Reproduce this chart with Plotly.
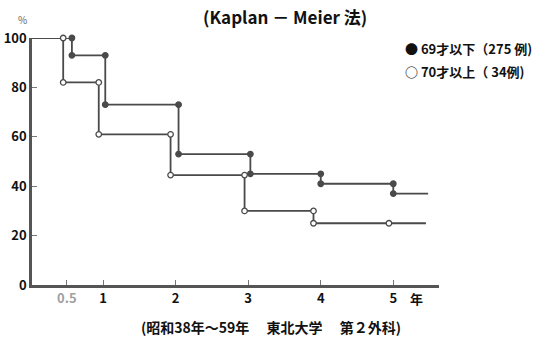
import plotly.graph_objects as go

# Kaplan-Meier step data (years, survival %)
g1_name = "69才以下（275 例)"
g1_time = [0, 0.57, 1.03, 2.04, 3.03, 4.0, 5.0, 5.48]
g1_surv = [100, 93, 73, 53, 45, 41, 37, 37]

g2_name = "70才以上（ 34例)"
g2_time = [0, 0.45, 0.94, 1.93, 2.95, 3.9, 5.45]
g2_surv = [100, 82, 61, 44.5, 30, 25, 25]
g2_extra_time = [4.94]
g2_extra_surv = [25]

x_ticks = [0.5, 1, 2, 3, 4, 5]
x_ticktext = ["<span style='color:#a0a0a0'>0.5</span>", "1", "2", "3", "4", "5"]
y_ticks = [0, 20, 40, 60, 80, 100]

title_text = "(Kaplan － Meier 法)"
footnote = "(昭和38年～59年　 東北大学　 第２外科)"

LINE = "#4a4a4a"
FONT = "Noto Sans CJK JP"


def step_markers(t, s):
    xs, ys = [], []
    for i in range(1, len(t) - 1):
        xs += [t[i], t[i]]
        ys += [s[i - 1], s[i]]
    return xs, ys


fig = go.Figure()
for t, s, filled in [(g1_time, g1_surv, True), (g2_time, g2_surv, False)]:
    fig.add_trace(go.Scatter(x=t, y=s, mode="lines", line=dict(shape="hv", color=LINE, width=1.8),
                             showlegend=False, hoverinfo="skip", cliponaxis=False))
    mx, my = step_markers(t, s)
    if not filled:
        mx += g2_extra_time
        my += g2_extra_surv
    fig.add_trace(go.Scatter(
        x=mx, y=my, mode="markers", showlegend=False, cliponaxis=False,
        marker=dict(size=5.5, symbol="circle",
                    color=LINE if filled else "white",
                    line=dict(color=LINE, width=1.3))))

fig.update_layout(
    width=539, height=340,
    margin=dict(l=32, r=100, t=38, b=55),
    paper_bgcolor="white", plot_bgcolor="white",
    font=dict(family=FONT, color="#111", size=12),
    xaxis=dict(range=[0.02, 5.63], tickvals=x_ticks, ticktext=x_ticktext, automargin=False,
               ticks="inside", ticklen=5, tickwidth=1, tickcolor="#777",
               showline=True, linecolor="#555", linewidth=2.5,
               showgrid=False, zeroline=False,
               tickfont=dict(family=FONT, size=13, color="#111", weight="bold")),
    yaxis=dict(range=[0, 100], tickvals=y_ticks, automargin=False,
               ticks="inside", ticklen=5, tickwidth=1, tickcolor="#777",
               showline=True, linecolor="#555", linewidth=2.5,
               showgrid=False, zeroline=False,
               tickfont=dict(family=FONT, size=13, color="#111", weight="bold")),
    showlegend=False,
)

ann = [
    dict(text=title_text, x=285, y=17, font=dict(size=17, weight="bold")),
    dict(text="%", x=22, y=19, font=dict(size=10, color="#666")),
    dict(text="年", x=416, y=298, font=dict(size=13, weight="bold")),
    dict(text=footnote, x=271, y=327, font=dict(size=14, weight="bold")),
    dict(text="● " + g1_name, x=403, y=48, xanchor="left", font=dict(size=13, weight="bold")),
    dict(text="○ " + g2_name, x=403, y=71, xanchor="left", font=dict(size=13, weight="bold")),
]
for a in ann:
    xa = a.pop("xanchor", "center")
    fig.add_annotation(xref="paper", yref="paper",
                       x=(a.pop("x") - 32) / 407, y=(285 - a.pop("y")) / 247,
                       xanchor=xa, yanchor="middle", showarrow=False, **a)

fig.write_html("out.html", config={"displayModeBar": False},
               post_script="document.body.style.margin='0';document.body.style.overflow='hidden';")
